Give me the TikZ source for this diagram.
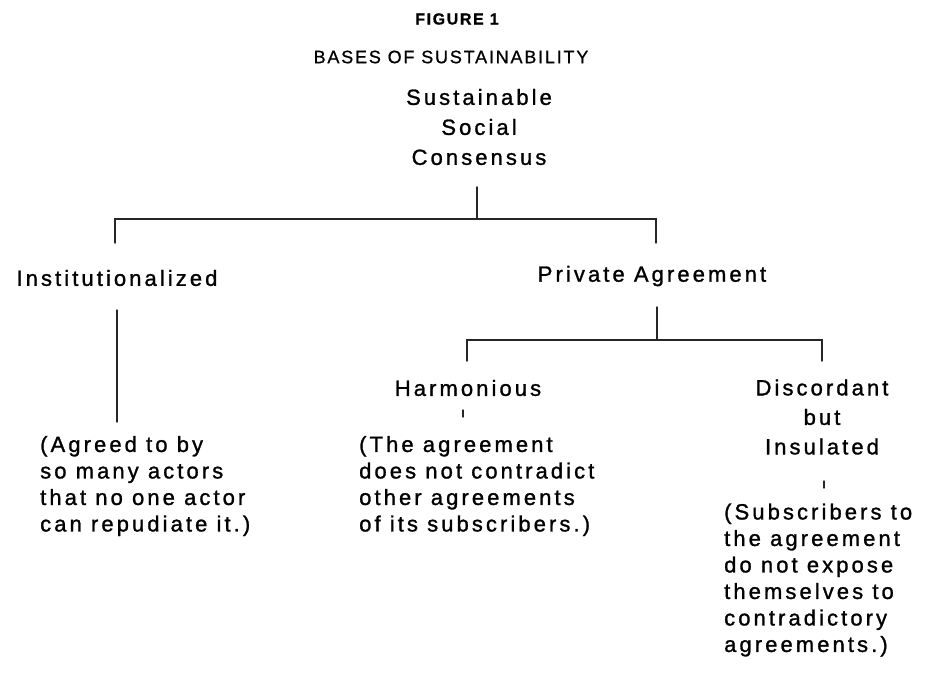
\documentclass[tikz,border=0pt]{standalone}
\usepackage{fontspec}
\setmainfont{Liberation Sans}
\newfontfamily\bodyfont[LetterSpace=14,FakeBold=1.2]{Liberation Sans}
\newfontfamily\headfont[LetterSpace=10,FakeBold=0.8]{Liberation Sans}
\begin{document}
\begin{tikzpicture}[x=1pt,y=-1pt,
  txt/.style={inner sep=0pt, font=\bodyfont\fontsize{22}{26.5}\selectfont},
  label3/.style={txt, align=center, font=\bodyfont\fontsize{22}{29.5}\selectfont},
  desc/.style={txt, align=left, anchor=west},
  link/.style={line width=1.4pt, line cap=round, black!85}]
\useasboundingbox (0,0) rectangle (926,680);

% headings
\node[inner sep=0pt, font=\headfont\bfseries\fontsize{16}{18}\selectfont] (fig) at (457,19) {FIGURE 1};
\node[inner sep=0pt, font=\headfont\fontsize{18}{20}\selectfont] (bases) at (451,57) {BASES OF SUSTAINABILITY};

% root
\node[label3, font=\bodyfont\fontsize{22}{30}\selectfont] (root) at (479,127) {Sustainable\\Social\\Consensus};

% first level
\node[txt] (inst) at (117,278) {Institutionalized};
\node[txt] (priv) at (652,276) {Private Agreement};

% second level
\node[txt] (harm) at (468,388) {Harmonious};
\node[label3] (disc) at (822,417) {Discordant\\but\\Insulated};

% explanations
\node[desc] (instd) at (40,486) {(Agreed to by\\so many actors\\that no one actor\\can repudiate it.)};
\node[desc] (harmd) at (359,486) {(The agreement\\does not contradict\\other agreements\\of its subscribers.)};
\node[desc] (discd) at (724,580) {(Subscribers to\\the agreement\\do not expose\\themselves to\\contradictory\\agreements.)};

% connector points
\coordinate (r0) at (477,187);
\coordinate (r1) at (477,219);
\coordinate (a0) at (115,219);
\coordinate (a1) at (115,243);
\coordinate (b0) at (656,219);
\coordinate (b1) at (656,243);
\coordinate (i0) at (117,310);
\coordinate (i1) at (117,422);
\coordinate (p0) at (657,307);
\coordinate (p1) at (657,340);
\coordinate (h0) at (467,340);
\coordinate (h1) at (467,361);
\coordinate (d0) at (822,340);
\coordinate (d1) at (822,361);
\coordinate (ht0) at (463,410);
\coordinate (ht1) at (463,417);
\coordinate (dt0) at (824,481);
\coordinate (dt1) at (824,488);

% tree connectors
\draw[link] (r0) -- (r1);
\draw[link] (a1) -- (a0) -- (b0) -- (b1);
\draw[link] (i0) -- (i1);
\draw[link] (p0) -- (p1);
\draw[link] (h1) -- (h0) -- (d0) -- (d1);
\draw[link] (ht0) -- (ht1);
\draw[link] (dt0) -- (dt1);
\end{tikzpicture}
\end{document}
